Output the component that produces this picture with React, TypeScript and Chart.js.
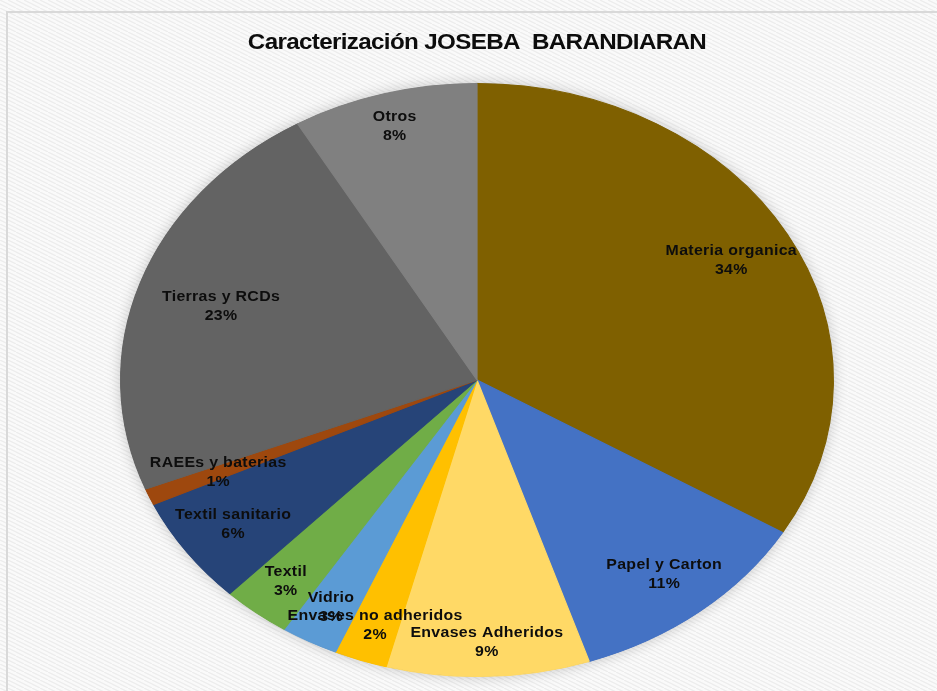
import React, { useEffect, useRef } from "react";
import { Chart, registerables } from "chart.js";

Chart.register(...registerables);

const chartTitle = "Caracterización JOSEBA  BARANDIARAN";
const categories = [
  "Materia organica",
  "Papel y Carton",
  "Envases Adheridos",
  "Envases no adheridos",
  "Vidrio",
  "Textil",
  "Textil sanitario",
  "RAEEs y baterias",
  "Tierras y RCDs",
  "Otros",
];
const shares = [33.6, 11.3, 9.2, 2.4, 2.6, 3.1, 5.9, 0.9, 22.6, 8.4];
const percentLabels = ["34%", "11%", "9%", "2%", "3%", "3%", "6%", "1%", "23%", "8%"];
const sliceColors = [
  "#7F6000",
  "#4472C4",
  "#FFD966",
  "#FFC000",
  "#5B9BD5",
  "#70AD47",
  "#264478",
  "#9E480E",
  "#636363",
  "#808080",
];

// layout: horizontal stretch of the pie and label distance (fraction of radius)
const STRETCH_X = 357 / 297;
const LABEL_RADII = [0.82, 0.84, 0.885, 0.875, 0.87, 0.865, 0.84, 0.79, 0.76, 0.885];

function makePattern(ctx: CanvasRenderingContext2D) {
  const tile = document.createElement("canvas");
  tile.width = 8;
  tile.height = 8;
  const t = tile.getContext("2d")!;
  t.fillStyle = "#fafafa";
  t.fillRect(0, 0, 8, 8);
  t.strokeStyle = "#ececec";
  t.lineWidth = 1.2;
  t.beginPath();
  t.moveTo(0, 0);
  t.lineTo(8, 4);
  t.moveTo(0, 4);
  t.lineTo(8, 8);
  t.moveTo(-8, 0);
  t.lineTo(8, 8);
  t.stroke();
  return ctx.createPattern(tile, "repeat");
}

const ellipsePie = {
  id: "ellipsePie",
  beforeDraw(chart: any) {
    const ctx: CanvasRenderingContext2D = chart.ctx;
    ctx.save();
    ctx.fillStyle = makePattern(ctx) || "#f7f7f7";
    ctx.fillRect(0, 0, chart.width, chart.height);
    ctx.strokeStyle = "#d9d9d9";
    ctx.lineWidth = 2;
    ctx.strokeRect(7, 12, chart.width + 100, chart.height + 100);
    ctx.restore();
  },
  beforeDatasetsDraw(chart: any) {
    const ctx: CanvasRenderingContext2D = chart.ctx;
    const arc = chart.getDatasetMeta(0).data[0];
    if (!arc) return;
    const { x, y, outerRadius } = arc;
    ctx.save();
    ctx.save();
    ctx.shadowColor = "rgba(0,0,0,0.22)";
    ctx.shadowBlur = 14;
    ctx.fillStyle = "#777";
    ctx.beginPath();
    ctx.ellipse(x, y, outerRadius * STRETCH_X, outerRadius, 0, 0, Math.PI * 2);
    ctx.fill();
    ctx.restore();
    ctx.translate(x, y);
    ctx.scale(STRETCH_X, 1);
    ctx.translate(-x, -y);
  },
  afterDatasetsDraw(chart: any) {
    const ctx: CanvasRenderingContext2D = chart.ctx;
    ctx.restore();
    const meta = chart.getDatasetMeta(0);
    const first = meta.data[0];
    if (!first) return;
    meta.data.forEach((arc: any, i: number) => {
      const mid = (arc.startAngle + arc.endAngle) / 2;
      const r = arc.outerRadius * LABEL_RADII[i];
      const px = arc.x + Math.cos(mid) * r * STRETCH_X;
      const py = arc.y + Math.sin(mid) * r;
      ctx.save();
      ctx.translate(px, py);
      ctx.scale(1.06, 1);
      ctx.font = 'bold 15px "Liberation Sans", Arial, sans-serif';
      (ctx as any).letterSpacing = "0.3px";
      ctx.fillStyle = "#0d0d0d";
      ctx.textAlign = "center";
      ctx.textBaseline = "middle";
      ctx.fillText(categories[i], 0, -9.5);
      ctx.fillText(percentLabels[i], 0, 9.5);
      ctx.restore();
    });
    ctx.save();
    ctx.translate(first.x, 43);
    ctx.scale(1.1, 1);
    ctx.font = 'bold 22px "Liberation Sans", Arial, sans-serif';
    (ctx as any).letterSpacing = "-0.6px";
    ctx.fillStyle = "#0d0d0d";
    ctx.textAlign = "center";
    ctx.textBaseline = "middle";
    ctx.fillText(chartTitle, 0, 0);
    ctx.restore();
  },
};

export default function App() {
  const ref = useRef<HTMLCanvasElement>(null);
  useEffect(() => {
    if (!ref.current) return;
    const chart = new Chart(ref.current, {
      type: "pie",
      data: {
        labels: categories,
        datasets: [
          {
            data: shares,
            backgroundColor: sliceColors,
            borderColor: sliceColors,
            borderWidth: 1,
            clip: false as any,
          },
        ],
      },
      options: {
        responsive: false,
        animation: false,
        events: [],
        rotation: 0,
        layout: { padding: { top: 83, bottom: 14, left: 180, right: 163 } },
        plugins: {
          legend: { display: false },
          tooltip: { enabled: false },
          title: { display: false },
        },
      },
      plugins: [ellipsePie],
    });
    return () => chart.destroy();
  }, []);
  return (
    <div style={{ position: "absolute", left: 0, top: 0, width: 937, height: 691 }}>
      <canvas ref={ref} width={937} height={691} style={{ width: 937, height: 691, display: "block" }} />
    </div>
  );
}
